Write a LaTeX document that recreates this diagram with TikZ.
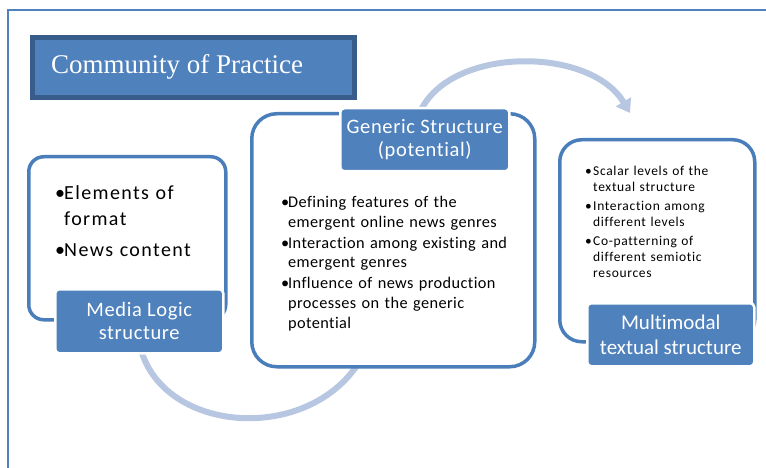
\documentclass[tikz,border=0pt]{standalone}
\usepackage{fontspec}
\setmainfont{Carlito}[Ligatures=NoCommon]
\newfontfamily\titlefont{Liberation Serif}
\newfontfamily\spfontA{Carlito}[Ligatures=NoCommon, LetterSpace=7]
\newfontfamily\spfontB{Carlito}[Ligatures=NoCommon, LetterSpace=5]
\newfontfamily\spfontM{Carlito}[Ligatures=NoCommon, LetterSpace=2.5]
\newfontfamily\spfontC{Carlito}[Ligatures=NoCommon, LetterSpace=3]
\usetikzlibrary{arrows.meta}
\definecolor{accent}{RGB}{79,129,189}
\definecolor{outl}{RGB}{74,126,187}
\definecolor{darkb}{RGB}{56,93,138}
\definecolor{arcc}{RGB}{183,199,226}
\hyphenpenalty=10000
\exhyphenpenalty=10000
\newcommand{\bitem}[2]{\hangindent=#1\hangafter=1\noindent\makebox[#1][l]{•}#2\par}
\tikzset{
  outbox/.style={draw=outl, line width=3.5pt, fill=white, anchor=north west, inner sep=0pt},
  labbox/.style={fill=accent, draw=white, line width=2.5pt, rounded corners=4pt, anchor=north west, text=white, align=center, inner sep=0pt},
  bulltext/.style={anchor=north west, inner sep=0pt, text=black, align=left},
  flowarc/.style={draw=arcc, line width=6pt}
}
\begin{document}
\begin{tikzpicture}[x=1pt,y=-1pt]
\useasboundingbox (0,0) rectangle (766,468);
\fill[white] (0,0) rectangle (766,468);
% frame
\draw[accent, line width=2pt] (8,470) -- (8,10) -- (768,10);
% title
\node[fill=accent, draw=darkb, line width=5pt, minimum width=322pt, minimum height=60pt, anchor=north west, inner sep=0pt] (title) at (29.5,35.5) {};
\node[anchor=base west, text=white, inner sep=0pt, font=\titlefont\fontsize{27}{30}\selectfont] (titletext) at (51,74) {Community of Practice};
% arcs
\coordinate (b1) at (138,335);
\coordinate (b2) at (370,340);
\draw[flowarc] (b1) .. controls (150,440) and (330,450) .. (b2);
\coordinate (t1) at (420,112);
\coordinate (t2) at (630,113);
\draw[flowarc, -{Triangle[width=17pt,length=13pt]}] (t1) .. controls (450,46) and (590,46) .. (t2);
% left group
\node[outbox, rounded corners=15pt, minimum width=197pt, minimum height=163pt] (lbox) at (27,155) {};
\node[bulltext, text width=150pt, font=\spfontA\fontsize{20}{26}\selectfont] (ltext) at (55,185) {%
\bitem{9pt}{Elements of format}\vspace{5pt}%
\bitem{9pt}{News content}};
\node[labbox, minimum width=168pt, minimum height=64pt, font=\spfontC\fontsize{20.5}{23}\selectfont] (llab) at (54,288) {Media Logic\\structure};
% middle group
\node[outbox, rounded corners=25pt, minimum width=283pt, minimum height=253pt] (mbox) at (250,112) {};
\node[bulltext, text width=228pt, font=\spfontM\fontsize{16.3}{19.8}\selectfont] (mtext) at (281,196) {%
\bitem{7pt}{Defining features of the emergent online news genres}\vspace{1pt}%
\bitem{7pt}{Interaction among existing and emergent genres}\vspace{1pt}%
\bitem{7pt}{Influence of news production processes on the generic potential}};
\node[labbox, minimum width=169pt, minimum height=63pt, font=\spfontC\fontsize{20.5}{23}\selectfont] (mlab) at (339,107) {Generic Structure\\(potential)};
% right group
\node[outbox, rounded corners=22pt, minimum width=195pt, minimum height=202pt] (rbox) at (558,138) {};
\node[bulltext, text width=135pt, font=\spfontB\fontsize{13.5}{16}\selectfont] (rtext) at (585,166) {%
\bitem{8pt}{Scalar levels of the textual structure}\vspace{3pt}%
\bitem{8pt}{Interaction among different levels}\vspace{3pt}%
\bitem{8pt}{Co-patterning of different semiotic resources}};
\node[labbox, minimum width=167pt, minimum height=63pt, font=\fontsize{21}{25}\selectfont] (rlab) at (586,302) {Multimodal\\textual structure};
\end{tikzpicture}
\end{document}
